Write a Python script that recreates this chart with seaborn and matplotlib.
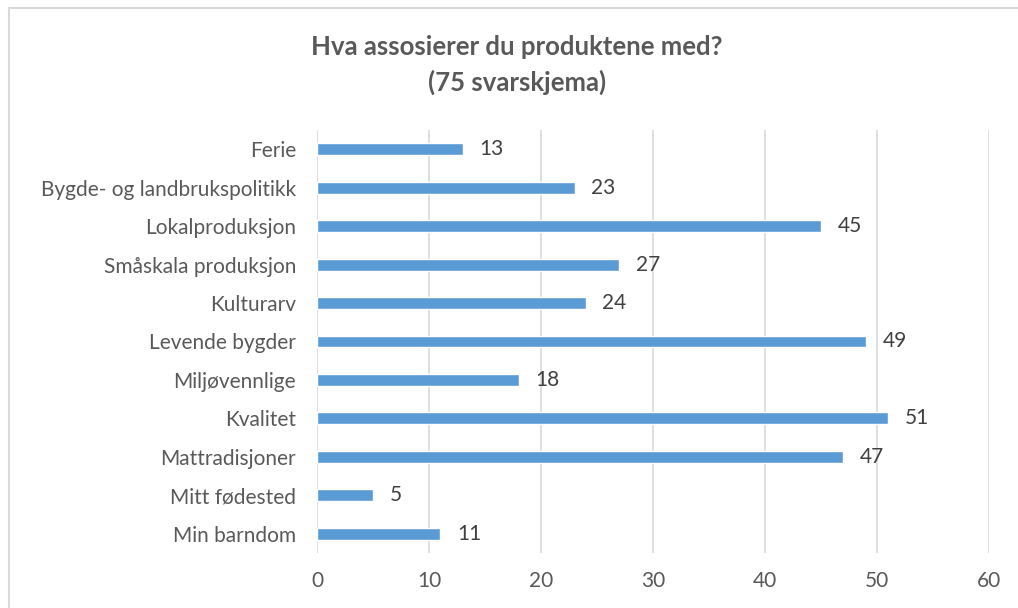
import matplotlib
matplotlib.use("Agg")
import matplotlib.pyplot as plt
import seaborn as sns
import pandas as pd
from matplotlib.patches import Rectangle

# data
categories = [
    "Ferie",
    "Bygde- og landbrukspolitikk",
    "Lokalproduksjon",
    "Småskala produksjon",
    "Kulturarv",
    "Levende bygder",
    "Miljøvennlige",
    "Kvalitet",
    "Mattradisjoner",
    "Mitt fødested",
    "Min barndom",
]
counts = [13, 23, 45, 27, 24, 49, 18, 51, 47, 5, 11]
x_ticks = [0, 10, 20, 30, 40, 50, 60]

df = pd.DataFrame({"kategori": categories, "antall": counts})

sns.set_style("white")
plt.rcParams["font.family"] = ["Lato", "DejaVu Sans"]

text_col = "#595959"
bar_col = "#5B9BD5"
grid_col = "#D9D9D9"

fig = plt.figure(figsize=(10.18, 6.08), dpi=100)
ax = fig.add_axes([0.3114, 0.0905, 0.6601, 0.6957])

sns.barplot(data=df, y="kategori", x="antall", orient="h", color=bar_col,
            width=0.31, saturation=1, ax=ax)

ax.set_xlim(0, 60)
ax.set_ylim(len(categories) - 0.5, -0.5)
ax.set_xticks(x_ticks)
ax.set_xticklabels([str(t) for t in x_ticks])
ax.set_xlabel("")
ax.set_ylabel("")

for s in ax.spines.values():
    s.set_visible(False)
ax.xaxis.grid(True, color=grid_col, linewidth=1.2)
ax.set_axisbelow(True)
ax.tick_params(axis="both", length=0, labelsize=15, colors=text_col)
ax.tick_params(axis="x", pad=13)
ax.tick_params(axis="y", pad=15)

# value labels
for i, v in enumerate(counts):
    ax.annotate(str(v), xy=(v, i), xytext=(12, 0), textcoords="offset points",
                ha="left", va="center", fontsize=15, color="#404040")

fig.text(0.508, 0.922, "Hva assosierer du produktene med?", ha="center", va="center",
         fontsize=18.5, fontweight="bold", color=text_col)
fig.text(0.508, 0.865, "(75 svarskjema)", ha="center", va="center",
         fontsize=18.5, fontweight="bold", color=text_col)

# chart area border (only top and left edges are inside the picture)
fig.patches.append(Rectangle((0.0085, -0.05), 1.05, 1.037, transform=fig.transFigure,
                             fill=False, edgecolor="#D9D9D9", linewidth=1.5))

fig.savefig("out.png", dpi=100)
